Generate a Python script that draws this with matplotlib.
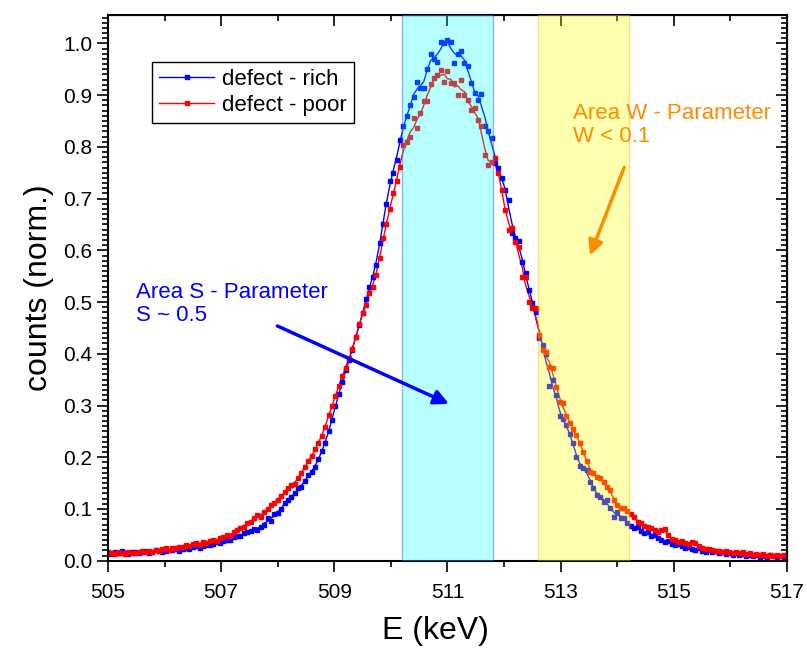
import numpy as np
import matplotlib.pyplot as plt
from matplotlib.ticker import MultipleLocator, FixedLocator, FormatStrFormatter

plt.rcParams['font.family'] = ['Liberation Sans', 'DejaVu Sans']

# energy channels (keV), 0.06 keV per channel
e_start = 505.0
e_step = 0.06

rich = [
    0.015, 0.013, 0.016, 0.014, 0.018, 0.015, 0.013, 0.016, 0.017, 0.014,
    0.016, 0.019, 0.015, 0.017, 0.020, 0.018, 0.016, 0.019, 0.021, 0.020,
    0.022, 0.019, 0.023, 0.025, 0.022, 0.026, 0.028, 0.025, 0.029, 0.031,
    0.030, 0.033, 0.036, 0.034, 0.038, 0.041, 0.040, 0.045, 0.048, 0.047,
    0.053, 0.056, 0.058, 0.062, 0.060, 0.066, 0.070, 0.082, 0.076, 0.090,
    0.093, 0.100, 0.112, 0.118, 0.123, 0.130, 0.140, 0.143, 0.155, 0.165,
    0.172, 0.182, 0.196, 0.212, 0.228, 0.250, 0.272, 0.300, 0.322, 0.345,
    0.368, 0.388, 0.408, 0.432, 0.455, 0.478, 0.505, 0.530, 0.548, 0.572,
    0.615, 0.650, 0.690, 0.735, 0.750, 0.775, 0.814, 0.840, 0.859, 0.881,
    0.896, 0.925, 0.914, 0.914, 0.950, 0.980, 0.970, 0.965, 1.002, 1.000,
    1.007, 1.002, 0.962, 0.980, 0.986, 0.962, 0.956, 0.923, 0.904, 0.891,
    0.903, 0.841, 0.830, 0.817, 0.769, 0.759, 0.740, 0.717, 0.697, 0.634,
    0.624, 0.618, 0.578, 0.556, 0.523, 0.498, 0.480, 0.430, 0.417, 0.400,
    0.338, 0.350, 0.320, 0.279, 0.274, 0.262, 0.245, 0.228, 0.200, 0.184,
    0.179, 0.175, 0.153, 0.140, 0.127, 0.124, 0.114, 0.117, 0.101, 0.085,
    0.095, 0.083, 0.083, 0.073, 0.068, 0.063, 0.066, 0.058, 0.054, 0.056,
    0.047, 0.049, 0.043, 0.040, 0.036, 0.038, 0.032, 0.030, 0.033, 0.028,
    0.025, 0.027, 0.023, 0.021, 0.024, 0.019, 0.017, 0.020, 0.016, 0.018,
    0.014, 0.016, 0.013, 0.015, 0.012, 0.014, 0.011, 0.013, 0.010, 0.012,
    0.009, 0.011, 0.006, 0.010, 0.008, 0.011, 0.009, 0.007, 0.010, 0.008,
    0.009,
]

poor = [
    0.017, 0.014, 0.013, 0.016, 0.015, 0.013, 0.017, 0.015, 0.014, 0.016,
    0.018, 0.016, 0.019, 0.017, 0.021, 0.019, 0.022, 0.024, 0.021, 0.025,
    0.024, 0.027, 0.026, 0.030, 0.028, 0.032, 0.034, 0.031, 0.036, 0.035,
    0.039, 0.041, 0.038, 0.043, 0.046, 0.050, 0.048, 0.055, 0.059, 0.063,
    0.066, 0.072, 0.075, 0.082, 0.088, 0.085, 0.094, 0.100, 0.108, 0.112,
    0.118, 0.125, 0.132, 0.140, 0.146, 0.148, 0.160, 0.170, 0.182, 0.192,
    0.202, 0.215, 0.228, 0.242, 0.258, 0.282, 0.300, 0.318, 0.338, 0.358,
    0.372, 0.392, 0.410, 0.432, 0.458, 0.478, 0.495, 0.518, 0.530, 0.552,
    0.585, 0.624, 0.650, 0.680, 0.710, 0.735, 0.762, 0.804, 0.810, 0.820,
    0.856, 0.836, 0.865, 0.888, 0.888, 0.922, 0.933, 0.939, 0.949, 0.926,
    0.946, 0.923, 0.923, 0.901, 0.930, 0.901, 0.890, 0.872, 0.875, 0.852,
    0.840, 0.785, 0.765, 0.770, 0.779, 0.750, 0.717, 0.678, 0.639, 0.643,
    0.617, 0.607, 0.549, 0.549, 0.500, 0.489, 0.489, 0.437, 0.408, 0.404,
    0.375, 0.373, 0.336, 0.307, 0.304, 0.280, 0.266, 0.254, 0.243, 0.227,
    0.211, 0.192, 0.172, 0.169, 0.162, 0.159, 0.153, 0.142, 0.137, 0.117,
    0.108, 0.101, 0.101, 0.097, 0.090, 0.085, 0.075, 0.072, 0.068, 0.066,
    0.063, 0.059, 0.055, 0.060, 0.062, 0.050, 0.042, 0.040, 0.037, 0.039,
    0.035, 0.033, 0.036, 0.034, 0.028, 0.025, 0.022, 0.023, 0.020, 0.019,
    0.018, 0.017, 0.019, 0.016, 0.015, 0.017, 0.014, 0.016, 0.013, 0.014,
    0.012, 0.013, 0.011, 0.013, 0.010, 0.012, 0.009, 0.011, 0.010, 0.012,
    0.010,
]

x_labels = [505, 507, 509, 511, 513, 515, 517]
s_window = (510.2, 511.8)
w_window = (512.6, 514.2)

rich = np.array(rich)
poor = np.array(poor)
energy = e_start + e_step * np.arange(len(rich))


def smooth(y):
    # light 3-point running mean for the guide line
    out = y.copy()
    out[1:-1] = (y[:-2] + y[1:-1] + y[2:]) / 3.0
    return out


fig = plt.figure(figsize=(8.07, 6.48), dpi=100)
ax = fig.add_axes([0.1338, 0.1347, 0.8414, 0.8422])

ax.plot(energy, smooth(rich), color='#0000ff', lw=1, zorder=2)
ax.plot(energy, smooth(poor), color='#ff0000', lw=1, zorder=2)
ax.plot(energy, rich, ls='none', marker='s', ms=3.2, color='#0000ff', zorder=2)
ax.plot(energy, poor, ls='none', marker='s', ms=3.2, color='#ff0000', zorder=2)

# legend proxies (line with a small marker in the middle)
h1, = ax.plot([np.nan] * 3, [np.nan] * 3, color='#0000ff', lw=1, marker='s', ms=2.5, markevery=[1])
h2, = ax.plot([np.nan] * 3, [np.nan] * 3, color='#ff0000', lw=1, marker='s', ms=2.5, markevery=[1])

ax.axvspan(*s_window, facecolor=(0, 1, 1, 0.28), edgecolor=(0.2, 0.4, 1, 0.5), lw=1, zorder=3)
ax.axvspan(*w_window, facecolor=(1, 1, 0, 0.31), edgecolor=(1, 0.65, 0, 0.4), lw=1, zorder=3)

ax.set_xlim(505, 517)
ax.set_ylim(0, 1.055)
ax.xaxis.set_major_locator(FixedLocator(x_labels))
ax.xaxis.set_minor_locator(MultipleLocator(1))
ax.yaxis.set_major_locator(MultipleLocator(0.1))
ax.yaxis.set_minor_locator(MultipleLocator(0.01))
ax.yaxis.set_major_formatter(FormatStrFormatter('%.1f'))

ax.tick_params(which='both', direction='out', top=False, right=False, width=1.2, labelsize=15)
ax.tick_params(which='major', length=8)
ax.tick_params(which='minor', length=4)
ax.tick_params(axis='x', pad=8)
for s in ax.spines.values():
    s.set_linewidth(1.5)

# inward ticks on the right and top sides
ay = ax.secondary_yaxis('right')
ay.yaxis.set_major_locator(MultipleLocator(0.1))
ay.yaxis.set_minor_locator(MultipleLocator(0.01))
ay.tick_params(which='both', direction='in', labelright=False, width=1.2)
ay.tick_params(which='major', length=8)
ay.tick_params(which='minor', length=4)
ax_t = ax.secondary_xaxis('top')
ax_t.xaxis.set_major_locator(FixedLocator(x_labels))
ax_t.xaxis.set_minor_locator(MultipleLocator(1))
ax_t.tick_params(which='both', direction='in', labeltop=False, width=1.2)
ax_t.tick_params(which='major', length=8)
ax_t.tick_params(which='minor', length=4)

ax.set_xlabel('E (keV)', fontsize=23, labelpad=10, x=0.482)
ax.set_ylabel('counts (norm.)', fontsize=23, labelpad=6)

leg = ax.legend([h1, h2], ['defect - rich', 'defect - poor'], loc='upper left',
                bbox_to_anchor=(0.065, 0.914), borderaxespad=0, fontsize=16,
                frameon=True, fancybox=False, edgecolor='black', framealpha=1,
                handlelength=2.5, handletextpad=0.35, borderpad=0.3, labelspacing=0.25)
leg.get_frame().set_linewidth(1)

ax.text(505.49, 0.538, 'Area S - Parameter\nS ~ 0.5', color='#0000ff', fontsize=16,
        va='top', ha='left', linespacing=1.1, zorder=5)
ax.annotate('', xy=(511.07, 0.301), xytext=(507.95, 0.456),
            arrowprops=dict(arrowstyle='-|>', color='#0000ff', lw=2.5, mutation_scale=22), zorder=5)

ax.text(513.22, 0.885, 'Area W - Parameter\nW < 0.1', color='#ff8c00', fontsize=16,
        va='top', ha='left', linespacing=1.1, zorder=5)
ax.annotate('', xy=(513.5, 0.585), xytext=(514.14, 0.765),
            arrowprops=dict(arrowstyle='-|>', color='#ff8c00', lw=2.5, mutation_scale=22), zorder=5)

fig.savefig('out.png', dpi=100)
